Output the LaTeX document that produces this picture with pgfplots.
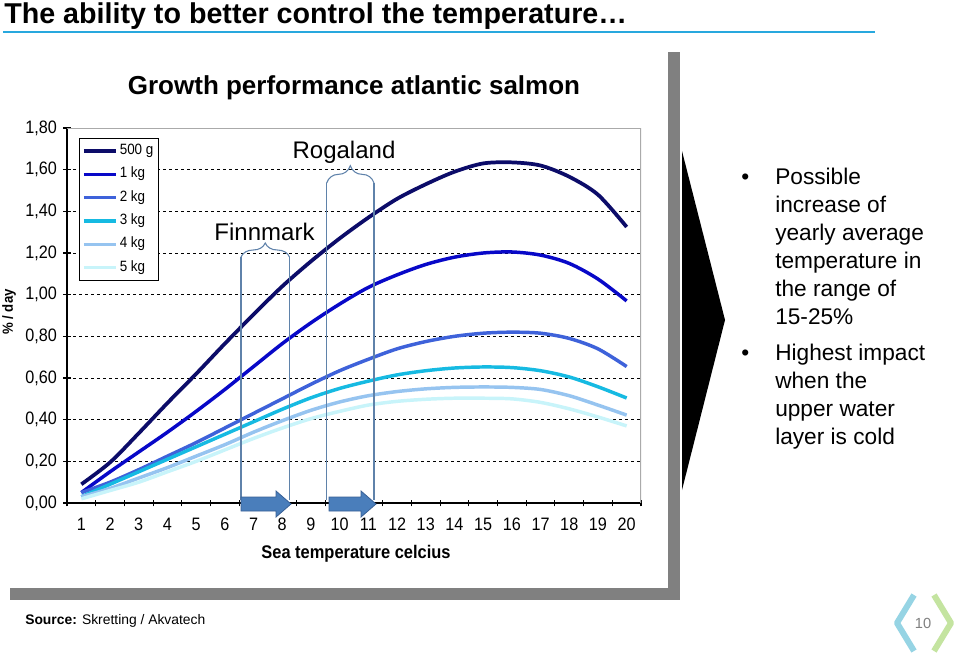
\documentclass[border=0pt]{standalone}
\usepackage{fontspec}
\setmainfont{Liberation Sans}
\newfontfamily\cf[FakeStretch=0.9]{Liberation Sans}
\usepackage{pgfplots}
\usepackage{pgfplotstable}
\pgfplotsset{compat=1.18}
\usetikzlibrary{decorations.pathreplacing}
\definecolor{cA}{RGB}{12,12,105}
\definecolor{cB}{RGB}{8,8,200}
\definecolor{cC}{RGB}{62,98,218}
\definecolor{cD}{RGB}{22,186,226}
\definecolor{cE}{RGB}{150,196,240}
\definecolor{cF}{RGB}{200,244,250}
\definecolor{titleblue}{RGB}{40,168,222}
\definecolor{shadowgray}{RGB}{128,128,128}
\definecolor{bracketc}{RGB}{95,130,170}
\definecolor{arrowfill}{RGB}{74,126,187}
\definecolor{arrowdraw}{RGB}{56,96,150}
\definecolor{framegray}{RGB}{170,170,170}
\definecolor{logoL}{RGB}{150,212,228}
\definecolor{logoR}{RGB}{196,228,160}

\pgfplotstableread{
T  a     b     c     d     e     f
1  0.09  0.05  0.05  0.03  0.03  0.02
2  0.195 0.15  0.10  0.09  0.07  0.06
3  0.335 0.245 0.16  0.15  0.12  0.10
4  0.48  0.34  0.225 0.21  0.17  0.15
5  0.62  0.44  0.29  0.27  0.225 0.20
6  0.765 0.545 0.36  0.33  0.28  0.255
7  0.905 0.655 0.43  0.39  0.34  0.31
8  1.04  0.765 0.50  0.45  0.395 0.36
9  1.16  0.865 0.57  0.505 0.445 0.405
10 1.27  0.955 0.635 0.55  0.485 0.44
11 1.37  1.035 0.69  0.585 0.515 0.47
12 1.46  1.095 0.74  0.615 0.535 0.488
13 1.53  1.145 0.775 0.635 0.548 0.498
14 1.59  1.18  0.80  0.648 0.555 0.503
15 1.63  1.20  0.815 0.653 0.557 0.503
16 1.635 1.205 0.82  0.65  0.555 0.50
17 1.62  1.19  0.815 0.635 0.545 0.483
18 1.566 1.15  0.79  0.605 0.515 0.452
19 1.48  1.075 0.74  0.558 0.47  0.413
20 1.325 0.97  0.655 0.504 0.422 0.37
}\growth

\begin{document}
\begin{tikzpicture}
\begin{scope}[x=0.75pt,y=-0.75pt]
\path[use as bounding box, fill=white] (0,0) rectangle (959,653);
% slide title
\node[anchor=base west, inner sep=0, font=\bfseries\fontsize{21.5pt}{24pt}\selectfont] at (4,23) {The ability to better control the temperature…};
\draw[titleblue, line width=1.5pt] (3,32) -- (875,32);
% chart shadow
\fill[shadowgray] (668,52) rectangle (680,600);
\fill[shadowgray] (10,588) rectangle (680,600);
% chart title
\node[inner sep=0, font=\bfseries\fontsize{19.5pt}{22pt}\selectfont] at (354,88) {Growth performance atlantic salmon};
% axis labels
\node[inner sep=0, font=\cf\bfseries\fontsize{13.7pt}{15pt}\selectfont] at (356,554) {Sea temperature celcius};
\node[inner sep=0, rotate=90, font=\cf\bfseries\fontsize{11pt}{12pt}\selectfont] at (9,312) {\% / day};
\end{scope}

\begin{axis}[
  at={(50.25pt,-377.25pt)}, anchor=south west,
  scale only axis, width=430.5pt, height=281.25pt,
  xmin=0.5, xmax=20.5, ymin=0, ymax=1.8,
  axis x line*=bottom, axis y line*=left,
  axis line style={black, line width=1.1pt, -},
  xtick={1,...,20},
  minor xtick={0.5,1.5,...,20.5},
  major x tick style={draw=none},
  minor tick length=5pt,
  major tick length=6pt,
  tick align=center,
  tick style={black, line width=0.8pt},
  ytick={0,0.2,...,1.8},
  ymajorgrids,
  major grid style={black, dash pattern=on 2.25pt off 2.25pt, line width=0.6pt},
  /pgf/number format/assume math mode=true,
  ticklabel style={font=\cf\fontsize{13.5pt}{15pt}\selectfont},
  xticklabel style={yshift=-5pt},
  yticklabel style={xshift=-1pt, /pgf/number format/.cd, fixed, fixed zerofill, precision=2, use comma},
  legend style={at={(0.0209,0.9733)}, anchor=north west, draw=black, line width=0.6pt,
    fill=white, font=\cf\fontsize{11.2pt}{12pt}\selectfont, inner xsep=2pt, inner ysep=4.6pt,
    row sep=7.8pt,
    nodes={inner xsep=1.5pt, inner ysep=0pt, text height=7.5pt, text depth=2.2pt}},
  legend cell align=left,
  legend image code/.code={\draw[#1] (0pt,0pt) -- (24pt,0pt);},
]
\addplot[cA, line width=2.8pt, smooth] table[x=T, y=a] {\growth};
\addlegendentry{500 g}
\addplot[cB, line width=2.6pt, smooth] table[x=T, y=b] {\growth};
\addlegendentry{1 kg}
\addplot[cC, line width=2.6pt, smooth] table[x=T, y=c] {\growth};
\addlegendentry{2 kg}
\addplot[cD, line width=2.6pt, smooth] table[x=T, y=d] {\growth};
\addlegendentry{3 kg}
\addplot[cE, line width=2.6pt, smooth] table[x=T, y=e] {\growth};
\addlegendentry{4 kg}
\addplot[cF, line width=2.6pt, smooth] table[x=T, y=f] {\growth};
\addlegendentry{5 kg}
\draw[framegray, line width=0.8pt] (axis cs:0.5,1.8) -- (axis cs:20.5,1.8) -- (axis cs:20.5,0);
\end{axis}

\begin{scope}[x=0.75pt,y=-0.75pt]
% brackets
\draw[bracketc, line width=0.8pt] (241,500) -- (241,257);
\draw[bracketc, line width=0.8pt] (289.5,500) -- (289.5,257);
\draw[bracketc, line width=0.8pt, decorate, decoration={brace, amplitude=10.5pt}] (241,257) -- (289.5,257);
\draw[bracketc, line width=0.8pt] (326.7,500) -- (326.7,183);
\draw[bracketc, line width=0.8pt] (374,500) -- (374,183);
\draw[bracketc, line width=0.8pt, decorate, decoration={brace, amplitude=13pt}] (326.7,183) -- (374,183);
\node[anchor=base, inner sep=0, font=\fontsize{18pt}{20pt}\selectfont] at (264.5,240) {Finnmark};
\node[anchor=base, inner sep=0, font=\fontsize{18pt}{20pt}\selectfont] at (344,158) {Rogaland};
% block arrows
\filldraw[fill=arrowfill, draw=arrowdraw, line width=0.6pt] (241,497) -- (276,497) -- (276,491) -- (291,504) -- (276,517) -- (276,511) -- (241,511) -- cycle;
\filldraw[fill=arrowfill, draw=arrowdraw, line width=0.6pt] (329,497) -- (361,497) -- (361,491) -- (376,504) -- (361,517) -- (361,511) -- (329,511) -- cycle;
% chevron
\fill[black] (682,151) -- (725,320) -- (682,490) -- cycle;
% bullets
\begin{scope}[every node/.style={anchor=base west, inner sep=0, font=\fontsize{17pt}{21pt}\selectfont}]
\node at (741,184) {•};
\node at (775,184) {Possible};
\node at (775,212) {increase of};
\node at (775,240) {yearly average};
\node at (775,268) {temperature in};
\node at (775,296) {the range of};
\node at (775,324) {15-25\%};
\node at (741,360) {•};
\node at (775,360) {Highest impact};
\node at (775,388) {when the};
\node at (775,416) {upper water};
\node at (775,444) {layer is cold};
\end{scope}
% source
\node[anchor=base west, inner sep=0, font=\fontsize{10.4pt}{12pt}\selectfont] at (25,624) {\textbf{Source:} Skretting / Akvatech};
% page logo
\draw[logoL, line width=4.5pt, line join=round] (914,595) -- (897,623) -- (914,651);
\draw[logoR, line width=4.5pt, line join=round] (934,595) -- (951,623) -- (934,651);
\node[inner sep=0, text=gray, font=\fontsize{11pt}{12pt}\selectfont] at (923,623) {10};
\end{scope}
\end{tikzpicture}
\end{document}
